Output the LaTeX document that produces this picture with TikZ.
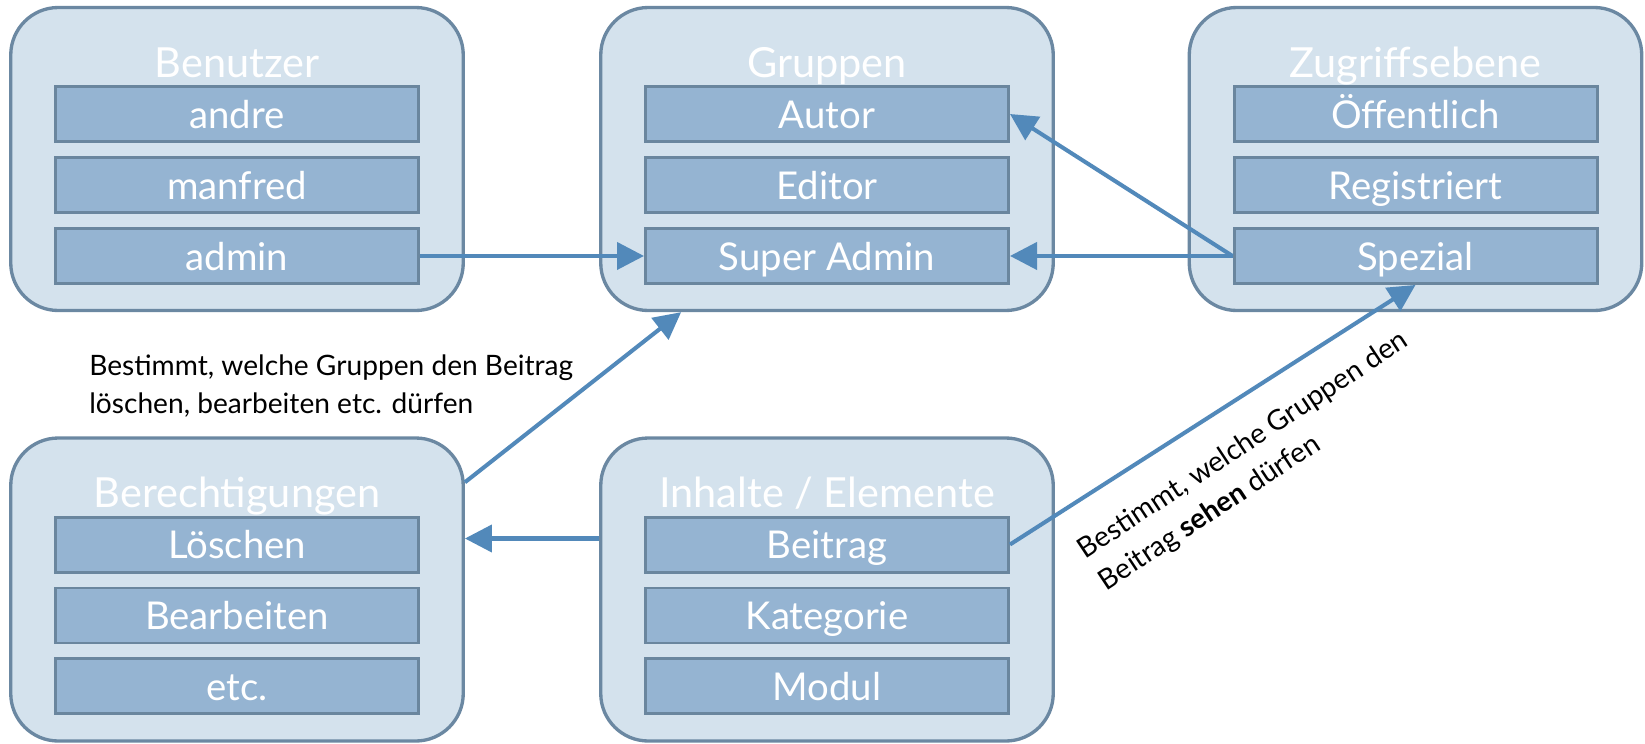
\documentclass[tikz,border=0pt]{standalone}
\usepackage{fontspec}
\setmainfont{Lato}
\usetikzlibrary{positioning,arrows.meta,calc}

\definecolor{panelfill}{RGB}{212,226,237}
\definecolor{paneldraw}{RGB}{107,136,162}
\definecolor{entryfill}{RGB}{149,180,210}
\definecolor{entrydraw}{RGB}{106,134,158}
\definecolor{linkblue}{RGB}{82,137,186}

\tikzset{
	panel/.style = {draw = paneldraw, fill = panelfill, line width = 1.9pt, rounded corners = 0.95cm, minimum width = 9.05cm, minimum height = 6.06cm, inner sep = 0pt},
	paneltitle/.style = {text = white, font = \fontsize{23.6}{28}\selectfont, anchor = base, inner sep = 0pt},
	entry/.style = {draw = entrydraw, fill = entryfill, line width = 1.7pt, minimum width = 7.26cm, minimum height = 1.1cm, inner sep = 0pt, text height = 16.4pt, text depth = 0pt, text = white, font = \fontsize{21.8}{26}\selectfont},
	link/.style = {draw = linkblue, line width = 2.3pt, -{Triangle[length = 0.54cm, width = 0.54cm]}},
	remark/.style = {font = \fontsize{16}{21.6}\selectfont, align = left, inner sep = 0pt, anchor = north west}
}

\begin{document}
\begin{tikzpicture}

	\useasboundingbox (0, 0) rectangle (32.9, -14.86);

	% Panels
	
	\node [panel] (benutzer) at (4.74, -3.18) {};
	\node [panel] (gruppen) at (16.54, -3.18) {};
	\node [panel] (zugriff) at (28.31, -3.18) {};
	\node [panel] (berecht) at (4.74, -11.79) {};
	\node [panel] (inhalte) at (16.54, -11.79) {};
	
	% Panel titles
	
	\node [paneltitle] (benutzertitle) at ([yshift = 1.64cm] benutzer.center) {Benutzer};
	\node [paneltitle] (gruppentitle) at ([yshift = 1.64cm] gruppen.center) {Gruppen};
	\node [paneltitle] (zugrifftitle) at ([yshift = 1.64cm] zugriff.center) {Zugriffsebene};
	\node [paneltitle] (berechttitle) at ([yshift = 1.64cm] berecht.center) {Berechtigungen};
	\node [paneltitle] (inhaltetitle) at ([yshift = 1.64cm] inhalte.center) {Inhalte / Elemente};
	
	% Entries
	
	\node [entry] (andre) at ([yshift = 0.9cm] benutzer.center) {andre};
	\node [entry, below = 0.26cm of andre] (manfred) {manfred};
	\node [entry, below = 0.26cm of manfred] (admin) {admin};
	
	\node [entry] (autor) at ([yshift = 0.9cm] gruppen.center) {Autor};
	\node [entry, below = 0.26cm of autor] (editor) {Editor};
	\node [entry, below = 0.26cm of editor] (superadmin) {Super Admin};
	
	\node [entry] (oeffentlich) at ([yshift = 0.9cm] zugriff.center) {Öffentlich};
	\node [entry, below = 0.26cm of oeffentlich] (registriert) {Registriert};
	\node [entry, below = 0.26cm of registriert] (spezial) {Spezial};
	
	\node [entry] (loeschen) at ([yshift = 0.9cm] berecht.center) {Löschen};
	\node [entry, below = 0.26cm of loeschen] (bearbeiten) {Bearbeiten};
	\node [entry, below = 0.26cm of bearbeiten] (etcbox) {etc.};
	
	\node [entry] (beitrag) at ([yshift = 0.9cm] inhalte.center) {Beitrag};
	\node [entry, below = 0.26cm of beitrag] (kategorie) {Kategorie};
	\node [entry, below = 0.26cm of kategorie] (modul) {Modul};
	
	% Links
	
	\draw [link] (admin.east) -- (superadmin.west);
	\draw [link] (spezial.west) -- (autor.east);
	\draw [link] (spezial.west) -- (superadmin.west -| superadmin.east);
	\draw [link] ($(berecht.north east)!0.15!(berecht.south east)$) -- ($(gruppen.south west)!0.18!(gruppen.south east)$);
	\draw [link] ($(inhalte.west |- beitrag)+(0, 0.12)$) -- ($(berecht.east |- beitrag)+(0, 0.12)$);
	\draw [link] (beitrag.east) -- (spezial.south);
	
	% Remarks
	
	\node [remark] (deleteremark) at (1.78, -7.08) {Bestimmt, welche Gruppen den Beitrag\\löschen, bearbeiten etc. dürfen};
	\node [remark, rotate = 33.5] (seeremark) at (21.48, -10.84) {Bestimmt, welche Gruppen den\\Beitrag \textbf{sehen} dürfen};

\end{tikzpicture}
\end{document}
